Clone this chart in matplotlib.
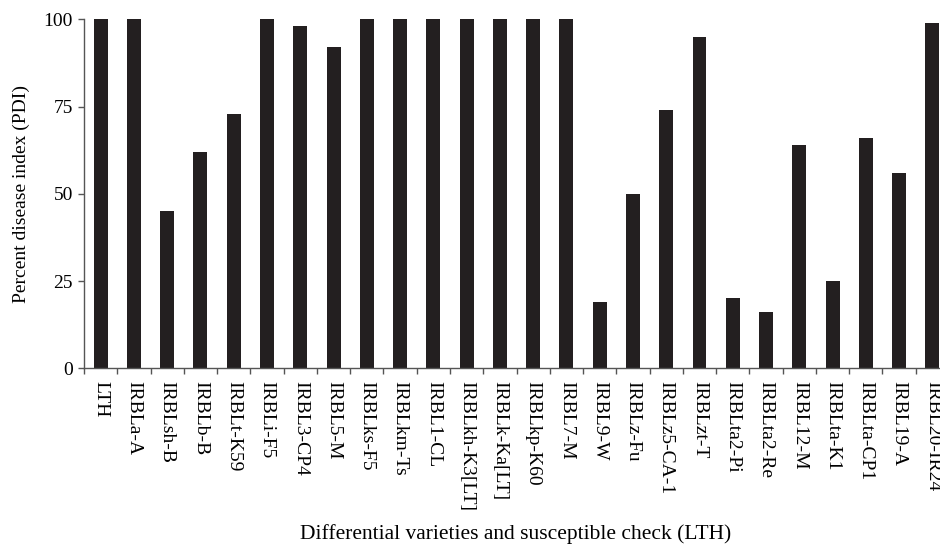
import matplotlib
matplotlib.use("Agg")
from matplotlib import pyplot as plt
import numpy as np

plt.rcParams["font.family"] = ["Liberation Serif", "DejaVu Serif"]

varieties = ["LTH", "IRBLa-A", "IRBLsh-B", "IRBLb-B", "IRBLt-K59", "IRBLi-F5",
             "IRBL3-CP4", "IRBL5-M", "IRBLks-F5", "IRBLkm-Ts", "IRBL1-CL",
             "IRBLkh-K3[LT]", "IRBLk-Ka[LT]", "IRBLkp-K60", "IRBL7-M", "IRBL9-W",
             "IRBLz-Fu", "IRBLz5-CA-1", "IRBLzt-T", "IRBLta2-Pi", "IRBLta2-Re",
             "IRBL12-M", "IRBLta-K1", "IRBLta-CP1", "IRBL19-A", "IRBL20-IR24"]
pdi = [100, 100, 45, 62, 73, 100, 98, 92, 100, 100, 100, 100, 100, 100, 100,
       19, 50, 74, 95, 20, 16, 64, 25, 66, 56, 99]

fig = plt.figure(figsize=(9.4, 5.46), dpi=100)
# axes run slightly past the right edge, like the cropped original
ax = fig.add_axes([0.0894, 0.3255, 0.9202, 0.6392])

x = np.arange(len(varieties))
ax.bar(x, pdi, width=0.42, color="#231f20")

ax.set_xlim(-0.5, len(varieties) - 0.5)
ax.set_ylim(0, 100)
ax.set_yticks([0, 25, 50, 75, 100])

# labels at bar centres, tick marks on the category boundaries
ax.set_xticks(x)
ax.set_xticklabels(varieties, rotation=-90, fontsize=14)
ax.tick_params(axis="x", which="major", length=0, pad=9)
ax.set_xticks(np.arange(-0.5, len(varieties), 1), minor=True)
ax.tick_params(axis="x", which="minor", length=4, width=1, color="#555555")
ax.tick_params(axis="y", length=4, width=1, color="#555555", labelsize=14, pad=4)

for s in ["top", "right"]:
    ax.spines[s].set_visible(False)
for s in ["left", "bottom"]:
    ax.spines[s].set_color("#555555")
    ax.spines[s].set_linewidth(1)

ax.set_ylabel("Percent disease index (PDI)", fontsize=14, labelpad=10)
# x label is centred on the (partly cropped) axes
fig.text(0.549, 0.022, "Differential varieties and susceptible check (LTH)",
         ha="center", va="center", fontsize=15.5)

fig.savefig("out.png", dpi=100)
